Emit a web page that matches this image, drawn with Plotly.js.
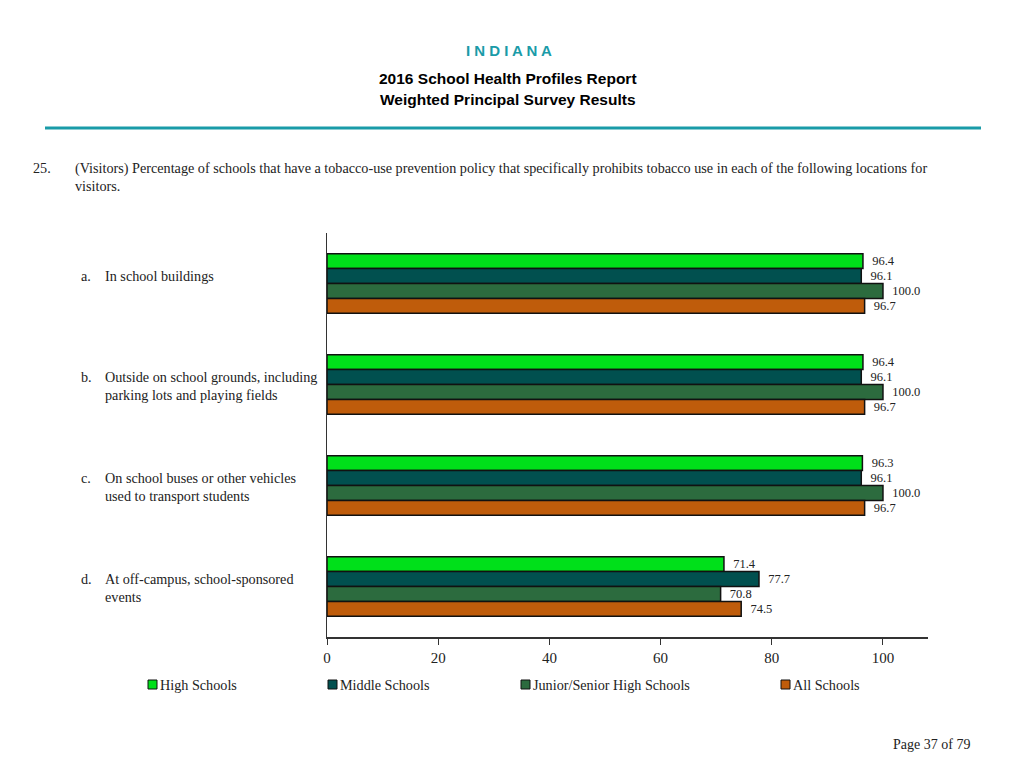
<!DOCTYPE html>
<html>
<head>
<meta charset="utf-8">
<script src="https://cdn.plot.ly/plotly-3.0.1.min.js"></script>
<style>html,body{margin:0;padding:0;background:#fff;}#chart{width:1024px;height:768px;}</style>
</head>
<body>
<div id="chart"></div>
<script>
var categories = ["a", "b", "c", "d"];
var letterLabels = ["a.", "b.", "c.", "d."];
var categoryLabels = [
  "In school buildings",
  "Outside on school grounds, including<br>parking lots and playing fields",
  "On school buses or other vehicles<br>used to transport students",
  "At off-campus, school-sponsored<br>events"
];
var seriesNames = ["High Schools", "Middle Schools", "Junior/Senior High Schools", "All Schools"];
var highSchools = [96.4, 96.4, 96.3, 71.4];
var middleSchools = [96.1, 96.1, 96.1, 77.7];
var juniorSenior = [100.0, 100.0, 100.0, 70.8];
var allSchools = [96.7, 96.7, 96.7, 74.5];
var xTicks = [0, 20, 40, 60, 80, 100];

var seriesValues = [highSchools, middleSchools, juniorSenior, allSchools];
var colors = ["#00E01A", "#01504F", "#2C6B3E", "#BF5C0B"];
var serif = "Liberation Serif, Times New Roman, serif";
var sans = "Liberation Sans, Arial, sans-serif";
var txt = "#222";

var traces = seriesValues.map(function (vals, i) {
  return {
    type: "bar",
    orientation: "h",
    name: seriesNames[i],
    y: categories,
    x: vals,
    marker: { color: colors[i], line: { color: "#111", width: 1.5 } },
    texttemplate: "\u00a0\u00a0%{x:.1f}",
    textposition: "outside",
    textfont: { family: serif, size: 12.5, color: txt },
    cliponaxis: false,
    showlegend: false,
    hoverinfo: "x+name"
  };
});

var L = 327, R = 96, T = 233, B = 131;
var plotW = 1024 - L - R, plotH = 768 - T - B;
function px2x(px) { return (px - L) / plotW; }
function py2y(py) { return (768 - B - py) / plotH; }

var annotations = [];
categories.forEach(function (c, i) {
  annotations.push({
    xref: "paper", yref: "y", x: px2x(79), y: c, xanchor: "left", yanchor: "top",
    yshift: 18, text: letterLabels[i], showarrow: false, align: "left",
    font: { family: serif, size: 14.2, color: txt }
  });
  annotations.push({
    xref: "paper", yref: "y", x: px2x(103), y: c, xanchor: "left", yanchor: "top",
    yshift: 18, text: categoryLabels[i], showarrow: false, align: "left",
    font: { family: serif, size: 14.2, color: txt }
  });
});

// Header texts
annotations.push({ xref: "paper", yref: "paper", x: px2x(509), y: py2y(50), xanchor: "center", yanchor: "middle",
  text: "I N D I A N A", showarrow: false, font: { family: sans, size: 15, color: "#1A9BA8", weight: "bold" } });
annotations.push({ xref: "paper", yref: "paper", x: px2x(508), y: py2y(78), xanchor: "center", yanchor: "middle",
  text: "2016 School Health Profiles Report", showarrow: false, font: { family: sans, size: 15.5, color: "#000", weight: "bold" } });
annotations.push({ xref: "paper", yref: "paper", x: px2x(508), y: py2y(100), xanchor: "center", yanchor: "middle",
  text: "Weighted Principal Survey Results", showarrow: false, font: { family: sans, size: 15.5, color: "#000", weight: "bold" } });
annotations.push({ xref: "paper", yref: "paper", x: px2x(31), y: py2y(168), xanchor: "left", yanchor: "middle", text: "25.",
  showarrow: false, font: { family: serif, size: 14.2, color: txt } });
annotations.push({ xref: "paper", yref: "paper", x: px2x(73), y: py2y(158), xanchor: "left", yanchor: "top", align: "left",
  text: "(Visitors) Percentage of schools that have a tobacco-use prevention policy that specifically prohibits tobacco use in each of the following locations for<br>visitors.",
  showarrow: false, font: { family: serif, size: 14.2, color: txt } });
annotations.push({ xref: "paper", yref: "paper", x: px2x(972), y: py2y(744), xanchor: "right", yanchor: "middle", text: "Page 37 of 79",
  showarrow: false, font: { family: serif, size: 14, color: txt } });

// Manual legend
var legendX = [148, 328, 521, 781];
var shapes = [
  { type: "line", xref: "paper", yref: "paper", x0: px2x(45), x1: px2x(981), y0: py2y(128), y1: py2y(128),
    line: { color: "#1A9BA8", width: 3 } }
];
seriesNames.forEach(function (n, i) {
  var x0 = legendX[i];
  shapes.push({ type: "rect", xref: "paper", yref: "paper", x0: px2x(x0), x1: px2x(x0 + 9),
    y0: py2y(689), y1: py2y(680), fillcolor: colors[i], line: { color: "#111", width: 1 } });
  annotations.push({ xref: "paper", yref: "paper", x: px2x(x0 + 10), y: py2y(685), xanchor: "left", yanchor: "middle",
    text: n, showarrow: false, font: { family: serif, size: 14.2, color: txt } });
});

var layout = {
  width: 1024, height: 768,
  margin: { l: L, r: R, t: T, b: B },
  paper_bgcolor: "#fff", plot_bgcolor: "#fff",
  barmode: "group", bargap: 0.41, bargroupgap: 0,
  showlegend: false,
  xaxis: {
    range: [0, 108.1], tickvals: xTicks, ticks: "outside", ticklen: 6, tickcolor: "#333",
    showgrid: false, zeroline: false, showline: true, linecolor: "#333", linewidth: 1.5,
    tickfont: { family: serif, size: 15, color: txt }, fixedrange: true
  },
  yaxis: {
    type: "category", autorange: "reversed", showticklabels: false, ticks: "",
    showgrid: false, zeroline: false, showline: true, linecolor: "#333", linewidth: 1.5, fixedrange: true
  },
  annotations: annotations,
  shapes: shapes
};

Plotly.newPlot("chart", traces, layout, { displayModeBar: false, staticPlot: true });
</script>
</body>
</html>
